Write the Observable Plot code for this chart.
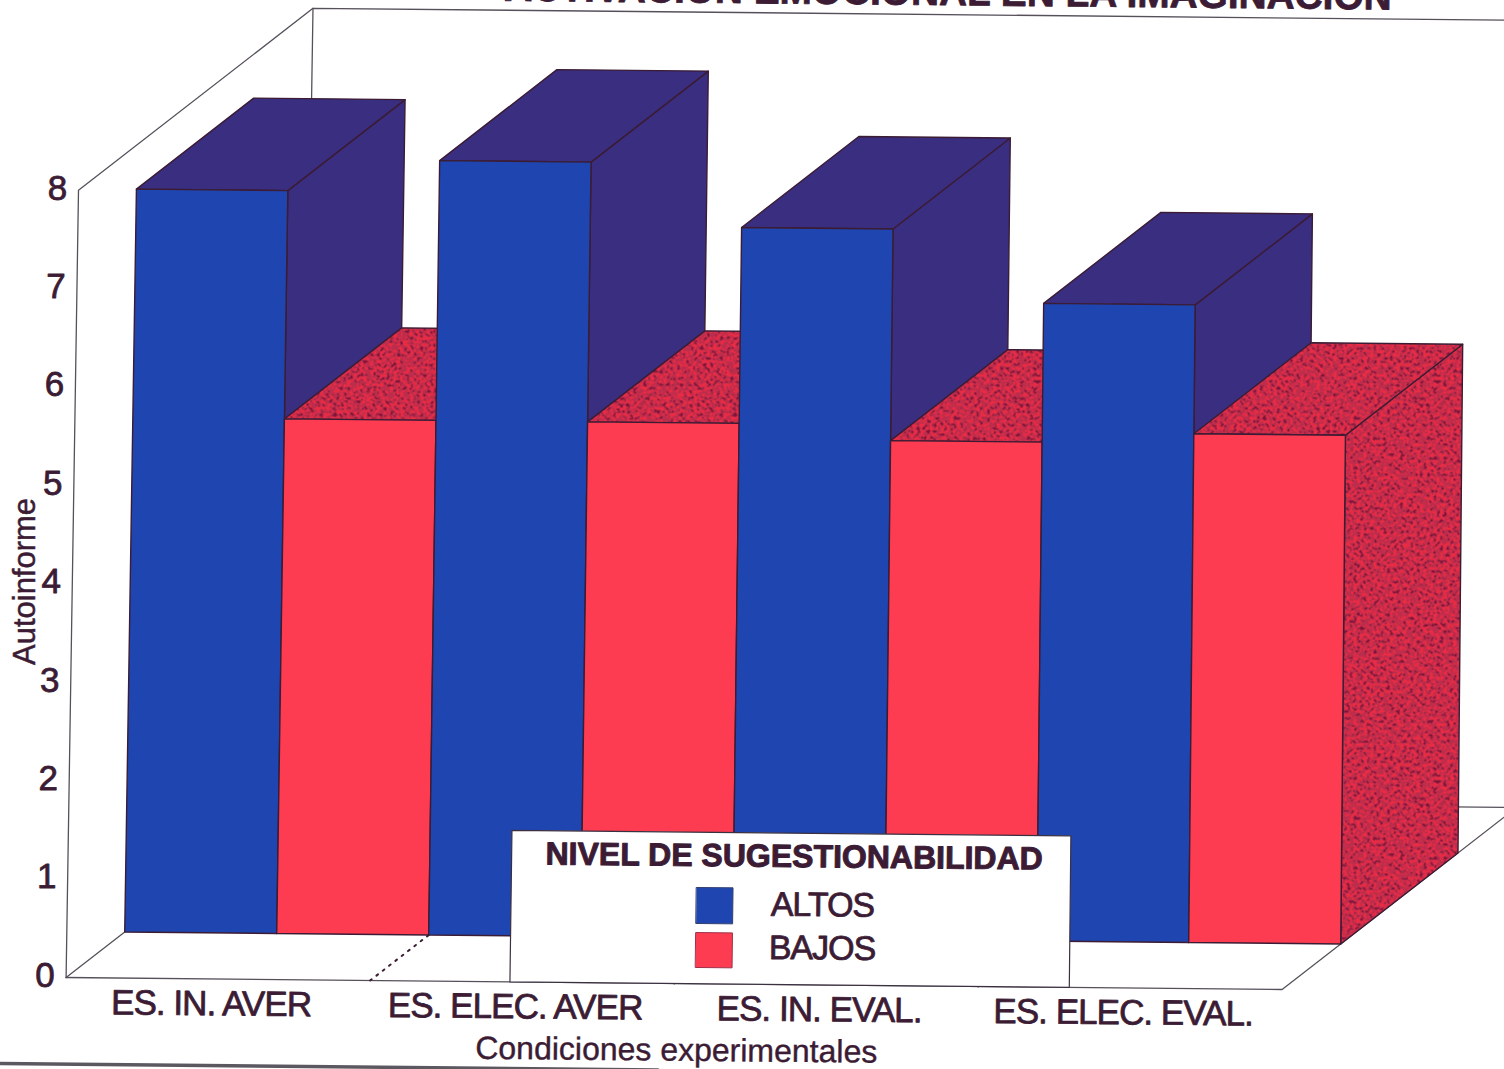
<!DOCTYPE html>
<html lang="es">
<head>
<meta charset="utf-8">
<title>Activación emocional en la imaginación</title>
<script src="https://cdn.jsdelivr.net/npm/d3@7"></script>
<script src="https://cdn.jsdelivr.net/npm/@observablehq/plot@0.6"></script>
<style>
  html, body { margin: 0; padding: 0; background: #fff; overflow: hidden; }
  svg { display: block; }
</style>
</head>
<body>
<!-- Stippled fill used on the shaded faces of the red bars -->
<svg width="0" height="0" style="position:absolute">
  <defs>
    <filter id="stipple" x="0" y="0" width="100%" height="100%" color-interpolation-filters="sRGB">
      <feTurbulence type="fractalNoise" baseFrequency="0.3" numOctaves="2" seed="7"/>
      <feColorMatrix type="matrix" values="1 0 0 0 0  1 0 0 0 0  1 0 0 0 0  0 0 0 0 1"/>
      <feComponentTransfer>
        <feFuncR type="discrete" tableValues="0.50 0.50 0.50 0.50 0.50 0.50 0.50 0.74 0.74 0.74 0.74 0.92 0.92 0.92 0.92 0.92 0.92 0.92 0.92 0.92"/>
        <feFuncG type="discrete" tableValues="0.08 0.08 0.08 0.08 0.08 0.08 0.08 0.18 0.18 0.18 0.18 0.17 0.17 0.17 0.17 0.17 0.17 0.17 0.17 0.17"/>
        <feFuncB type="discrete" tableValues="0.22 0.22 0.22 0.22 0.22 0.22 0.22 0.30 0.30 0.30 0.30 0.27 0.27 0.27 0.27 0.27 0.27 0.27 0.27 0.27"/>
      </feComponentTransfer>
      <feGaussianBlur stdDeviation="0.55"/>
    </filter>
    <pattern id="punteado" patternUnits="userSpaceOnUse" width="400" height="400">
      <rect width="400" height="400" filter="url(#stipple)"/>
    </pattern>
  </defs>
</svg>
<div id="chart"></div>
<script>
// Mean self-report by experimental condition and suggestibility level
const condiciones = ["ES. IN. AVER", "ES. ELEC. AVER", "ES. IN. EVAL.", "ES. ELEC. EVAL."];
const altos = [7.55, 7.87, 7.22, 6.48];
const bajos = [5.23, 5.23, 5.07, 5.17];
const nivelTicks = [0, 1, 2, 3, 4, 5, 6, 7, 8];
const niveles = ["ALTOS", "BAJOS"];

const titulo = "ACTIVACION EMOCIONAL EN LA IMAGINACION";
const tituloY = "Autoinforme";
const tituloX = "Condiciones experimentales";
const tituloLeyenda = "NIVEL DE SUGESTIONABILIDAD";

const tinta = "#3b1c34";
const colores = {
  ALTOS: {front: "#1f46b0", shade: "#392e80"},
  BAJOS: {front: "#fd3c52", shade: "url(#punteado)"}
};

// Oblique projection: u counts bars along the floor, v is the value, d is the depth (0 front, 1 back).
// x and y are then expressed in bar widths and value units, so Plot's scales place everything.
// Verticals lean a little less toward the right of the box.
const BAR_X = 152, BAR_Y = 1.5, UNIT_Y = 98.4, DEPTH_X = 234.5, DEPTH_Y = 182;
const lean = (u) => 1.55 - 0.08 * Math.max(u, 0);
const px = ({u, v = 0, d = 0}) => u + (v * lean(u) + d * DEPTH_X) / BAR_X;
const py = ({u, v = 0, d = 0}) => v - (u * BAR_Y - d * DEPTH_Y) / UNIT_Y;
const BAR_FRONT = 0.25, BAR_BACK = 0.75;
const TILT = 0.57;

// Bars in painting order, left to right; each one is side, top and front.
const barras = condiciones.flatMap((_, i) => [
  {nivel: "ALTOS", u: i * 2, v: altos[i]},
  {nivel: "BAJOS", u: i * 2 + 1, v: bajos[i]}
]);

const cara = (points, fill, stroke = tinta, strokeWidth = 1.4) =>
  Plot.line(points, {x: px, y: py, fill, stroke, strokeWidth, curve: "linear-closed"});

const marcasBarra = ({nivel, u, v}) => {
  const a = BAR_FRONT, b = BAR_BACK, c = colores[nivel];
  return [
    cara([{u: u + 1, v: 0, d: a}, {u: u + 1, v: 0, d: b}, {u: u + 1, v, d: b}, {u: u + 1, v, d: a}], c.shade),
    cara([{u, v, d: a}, {u: u + 1, v, d: a}, {u: u + 1, v, d: b}, {u, v, d: b}], c.shade),
    cara([{u, v: 0, d: a}, {u: u + 1, v: 0, d: a}, {u: u + 1, v, d: a}, {u, v, d: a}], c.front)
  ];
};

const filete = (points, extra = {}) =>
  Plot.line(points, {x: px, y: py, stroke: "#55505a", strokeWidth: 1.3, ...extra});

const leyendaCaja = [{u: 2.92, v: 0}, {u: 6.6, v: 0}, {u: 6.6, v: 1.54}, {u: 2.92, v: 1.54}];
const muestra = (v0, v1) => [{u: 4.14, v: v0}, {u: 4.38, v: v0}, {u: 4.38, v: v1}, {u: 4.14, v: v1}];

const etiqueta = (rows, options) =>
  Plot.text(rows, {x: px, y: py, fill: tinta, stroke: tinta, strokeWidth: 0.8,
    fontFamily: "Liberation Sans", rotate: TILT, ...options});

const chart = Plot.plot({
  width: 1504,
  height: 1069,
  margin: 0,
  x: {domain: [0, 8], range: [65.6, 1281.6], axis: null},
  y: {domain: [0, 8], range: [977, 189.8], axis: null},
  marks: [
    // Box walls and floor
    filete([{u: 0, v: 0, d: 1}, {u: 0, v: 8, d: 1}, {u: 8, v: 8, d: 1}]),
    filete([{u: 0, v: 0, d: 0}, {u: 0, v: 8, d: 0}, {u: 0, v: 8, d: 1}]),
    filete([{u: 0, v: 0, d: 1}, {u: 8, v: 0, d: 1}]),
    filete([{u: 0, v: 0, d: 0}, {u: 8, v: 0, d: 0}, {u: 8, v: 0, d: 1}]),
    filete([{u: 0, v: 0, d: 0}, {u: 0, v: 0, d: BAR_FRONT}]),
    // Dotted separators between conditions on the floor
    ...[1, 2, 3].map((i) => filete([{u: i * 2, v: 0, d: 0}, {u: i * 2, v: 0, d: BAR_FRONT}],
      {stroke: tinta, strokeWidth: 2, strokeDasharray: "2 6"})),
    // Bars
    ...barras.flatMap(marcasBarra),
    // Value axis labels
    etiqueta(nivelTicks.map((v) => ({u: 0, v, label: String(v)})),
      {text: "label", fontSize: 35, dx: -21, dy: -2, rotate: 0}),
    etiqueta([{u: -0.31, v: 4.02}], {text: () => tituloY, fontSize: 31, rotate: -90, strokeWidth: 0.5}),
    // Condition labels
    etiqueta(condiciones.map((label, i) => ({u: i * 2 + 1, v: 0, label})),
      {text: "label", fontSize: 35, dx: -7, dy: 25}),
    etiqueta([{u: 4.02, v: -0.68}], {text: () => tituloX, fontSize: 32, strokeWidth: 0.4}),
    // Heading, running off the top edge
    etiqueta([{u: 5.73, v: 10.095}], {text: () => titulo, fontSize: 38.8, fontWeight: "bold"}),
    // Scan edge along the bottom
    filete([{u: -0.44, v: -0.88}, {u: 3.9, v: -0.88}], {stroke: "#5c5860", strokeWidth: 3.5}),
    // Legend
    cara(leyendaCaja, "#ffffff", "#3b3040", 1.2),
    etiqueta([{u: 4.78, v: 1.3}], {text: () => tituloLeyenda, fontSize: 32, fontWeight: "bold", strokeWidth: 1}),
    cara(muestra(0.612, 0.978), colores.ALTOS.front, "#35406f", 1),
    cara(muestra(0.165, 0.52), colores.BAJOS.front, "#a03048", 1),
    etiqueta(niveles.map((label, i) => ({u: 4.97, v: [0.81, 0.37][i], label})),
      {text: "label", fontSize: 34})
  ]
});

// Condition and level labels are set tight, as the printed type is
for (const node of chart.querySelectorAll("text")) {
  const texto = node.textContent;
  if (condiciones.includes(texto)) node.style.letterSpacing = "-0.95px";
  if (niveles.includes(texto)) node.style.letterSpacing = "-1px";
}

document.getElementById("chart").append(chart);
</script>
</body>
</html>
